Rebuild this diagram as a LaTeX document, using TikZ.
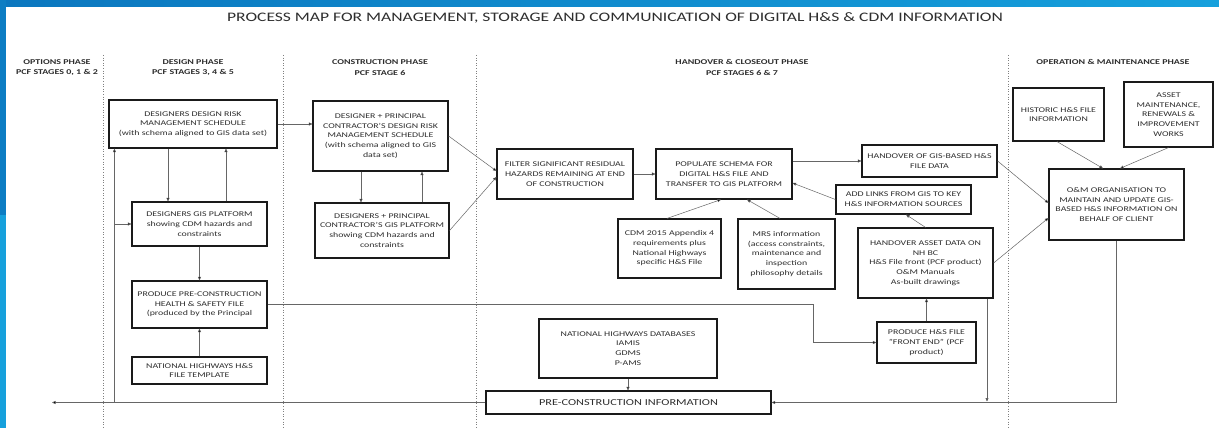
\documentclass[tikz,border=0pt]{standalone}
\usepackage{fontspec}
\setmainfont{Carlito}[FakeStretch=1.35]
\usetikzlibrary{arrows.meta}
\definecolor{txt}{HTML}{2E2E2E}
\definecolor{edge}{HTML}{1A1A1A}
\definecolor{wire}{HTML}{666666}
\definecolor{bandA}{HTML}{0B77BF}
\definecolor{bandB}{HTML}{16A0DC}
\tikzset{
  pbox/.style={draw=edge, line width=1.15pt, align=center, inner sep=1pt,
    text=txt, font=\fontsize{7.3}{9.7}\selectfont},
  head/.style={align=center, text=txt, font=\bfseries\fontsize{7.4}{10.5}\selectfont},
  arr/.style={draw=wire, line width=0.5pt, -{Triangle[length=3.5pt,width=3pt,fill=black]}},
  divider/.style={draw=gray, line width=0.6pt, dotted}
}
\begin{document}
\begin{tikzpicture}[x=1pt,y=-1pt]
\useasboundingbox (0,0) rectangle (1219,428);
\fill[white] (0,0) rectangle (1219,428);
% frame band
\shade[left color=bandA, right color=bandB] (0,0) rectangle (1219,7);
\fill[bandA!85!bandB] (0,0) rectangle (6,215);
\fill[bandB] (0,215) rectangle (6,428);

% title
\node[text=txt, font=\fontsize{13}{15}\selectfont] (title) at (615,18)
  {PROCESS MAP FOR MANAGEMENT, STORAGE AND COMMUNICATION OF DIGITAL H\&S \& CDM INFORMATION};

% phase dividers
\foreach \xx in {103,283,476,1008} \draw[divider] (\xx,55) -- (\xx,428);

% phase headings
\node[head] (hOpt) at (57,67.5) {OPTIONS PHASE\\PCF STAGES 0, 1 \& 2};
\node[head] (hDes) at (193,67.5) {DESIGN PHASE\\PCF STAGES 3, 4 \& 5};
\node[head] (hCon) at (380,67.5) {CONSTRUCTION PHASE\\PCF STAGE 6};
\node[head] (hHan) at (742,67.5) {HANDOVER \& CLOSEOUT PHASE\\PCF STAGES 6 \& 7};
\node[head] (hOM) at (1113,62) {OPERATION \& MAINTENANCE PHASE};

% process boxes
\node[pbox, minimum width=168pt, minimum height=48pt] (drms) at (193,124)
  {DESIGNERS DESIGN RISK\\MANAGEMENT SCHEDULE\\(with schema aligned to GIS data set)};
\node[pbox, minimum width=135pt, minimum height=44pt] (dgis) at (199.5,224)
  {DESIGNERS GIS PLATFORM\\showing CDM hazards and\\constraints};
\node[pbox, minimum width=135pt, minimum height=47pt] (ppchs) at (199.5,304.5)
  {PRODUCE PRE-CONSTRUCTION\\HEALTH \& SAFETY FILE\\(produced by the Principal};
\node[pbox, minimum width=135pt, minimum height=27pt] (nht) at (199.5,370.5)
  {NATIONAL HIGHWAYS H\&S\\FILE TEMPLATE};
\node[pbox, minimum width=135pt, minimum height=70pt] (dpcdrms) at (380.5,136)
  {DESIGNER + PRINCIPAL\\CONTRACTOR'S DESIGN RISK\\MANAGEMENT SCHEDULE\\(with schema aligned to GIS\\data set)};
\node[pbox, minimum width=134pt, minimum height=55pt] (dpcgis) at (382,230.5)
  {DESIGNERS + PRINCIPAL\\CONTRACTOR'S GIS PLATFORM\\showing CDM hazards and\\constraints};
\node[pbox, minimum width=136pt, minimum height=50pt] (filter) at (565,174)
  {FILTER SIGNIFICANT RESIDUAL\\HAZARDS REMAINING AT END\\OF CONSTRUCTION};
\node[pbox, minimum width=136pt, minimum height=50pt] (populate) at (724,174)
  {POPULATE SCHEMA FOR\\DIGITAL H\&S FILE AND\\TRANSFER TO GIS PLATFORM};
\node[pbox, minimum width=135pt, minimum height=32pt] (hgis) at (929.5,161)
  {HANDOVER OF GIS-BASED H\&S\\FILE DATA};
\node[pbox, minimum width=135pt, minimum height=29pt] (links) at (903.5,199.5)
  {ADD LINKS FROM GIS TO KEY\\H\&S INFORMATION SOURCES};
\node[pbox, minimum width=91pt, minimum height=53pt] (hist) at (1058.5,114.5)
  {HISTORIC H\&S FILE\\INFORMATION};
\node[pbox, minimum width=89pt, minimum height=65pt] (asset) at (1168.5,114.5)
  {ASSET\\MAINTENANCE,\\RENEWALS \&\\IMPROVEMENT\\WORKS};
\node[pbox, minimum width=135pt, minimum height=71pt] (om) at (1116.5,204.5)
  {O\&M ORGANISATION TO\\MAINTAIN AND UPDATE GIS-\\BASED H\&S INFORMATION ON\\BEHALF OF CLIENT};
\node[pbox, minimum width=103pt, minimum height=59pt] (cdm) at (669.5,248.5)
  {CDM 2015 Appendix 4\\requirements plus\\National Highways\\specific H\&S File};
\node[pbox, minimum width=97pt, minimum height=70pt] (mrs) at (786.5,254)
  {MRS information\\(access constraints,\\maintenance and\\inspection\\philosophy details};
\node[pbox, minimum width=135pt, minimum height=70pt] (hasset) at (925.5,263)
  {HANDOVER ASSET DATA ON\\NH BC\\H\&S File front (PCF product)\\O\&M Manuals\\As-built drawings};
\node[pbox, minimum width=99pt, minimum height=41pt] (hfe) at (926.5,342.5)
  {PRODUCE H\&S FILE\\"FRONT END" (PCF\\product)};
\node[pbox, minimum width=178pt, minimum height=59pt] (nhdb) at (628,348.5)
  {NATIONAL HIGHWAYS DATABASES\\IAMIS\\GDMS\\P-AMS};
\node[pbox, minimum width=285pt, minimum height=23pt, font=\fontsize{9.1}{11}\selectfont] (pci) at (628.5,402.5)
  {PRE-CONSTRUCTION INFORMATION};

% named free ends and junctions
\coordinate (leftend) at (52,402.5);
\coordinate (tap) at ([xshift=6pt]drms.south west |- pci.west);
\coordinate (bendx) at (813,0);

% design phase
\draw[arr] (drms.east) -- (drms.east -| dpcdrms.west);
\draw[arr] ([xshift=-25pt]drms.south) -- ([xshift=-25pt]drms.south |- dgis.north);
\draw[arr] ([xshift=26.5pt]dgis.north) -- ([xshift=26.5pt]dgis.north |- drms.south);
\draw[arr] (dgis.south) -- (ppchs.north);
\draw[arr] (nht.north) -- (ppchs.south);
\draw[arr] (pci.west) -- (leftend);
\draw[arr] (tap) -- ([xshift=6pt]drms.south west);
\draw[arr] (tap |- dgis.west) -- (dgis.west);
\draw[arr] (ppchs.east) -| (bendx |- hfe.west) -- (hfe.west);

% construction phase
\draw[arr] ([xshift=-19.5pt]dpcdrms.south) -- ([xshift=-19.5pt]dpcdrms.south |- dpcgis.north);
\draw[arr] ([xshift=40pt]dpcgis.north) -- ([xshift=40pt]dpcgis.north |- dpcdrms.south);
\draw[arr] (dpcdrms.east) -- ([yshift=3pt]filter.west);
\draw[arr] (dpcgis.east) -- ([yshift=-3pt]filter.west);

% handover phase
\draw[arr] (filter.east) -- (populate.west);
\draw[arr] (populate.east |- hgis.west) -- (hgis.west);
\draw[arr] (links.west) -- ([yshift=-9pt]populate.east);
\draw[arr] (hasset.north) -- ([xshift=2.5pt]links.south);
\draw[arr] ([xshift=-2.5pt]cdm.north) -- ([xshift=-3pt]populate.south);
\draw[arr] ([xshift=-6.5pt]mrs.north) -- ([xshift=23pt]populate.south);
\draw[arr] (hfe.north) -- (hasset.south -| hfe.north);
\draw[arr] (nhdb.south) -- (nhdb.south |- pci.north);
\draw[arr] ([xshift=61.5pt]hasset.south) -- ([xshift=61.5pt,yshift=1pt]hasset.south |- pci.east);

% operation phase
\draw[arr] (hgis.east) -- ([yshift=1.5pt]om.west);
\draw[arr] (hasset.east) -- ([yshift=-13.5pt]om.west);
\draw[arr] ([xshift=-1.5pt]hist.south) -- ([xshift=-13.5pt]om.north);
\draw[arr] (asset.south) -- ([xshift=3.5pt]om.north);
\draw[arr] (om.south) |- (pci.east);
\end{tikzpicture}
\end{document}
